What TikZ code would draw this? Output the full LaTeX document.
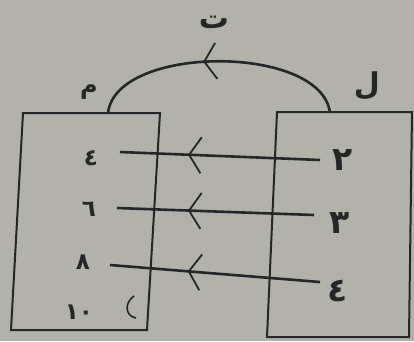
\documentclass[tikz,border=0pt]{standalone}
\usepackage{fontspec}
\usetikzlibrary{arrows.meta,decorations.markings}
\newfontfamily\arabicfont[Script=Arabic]{DejaVu Sans}
\definecolor{pbg}{HTML}{B2B2AA}
\definecolor{pline}{HTML}{262626}
\newcommand{\numsmall}{\arabicfont\bfseries\fontsize{23}{25}\selectfont}
\newcommand{\numbig}{\arabicfont\bfseries\fontsize{33}{36}\selectfont}
\tikzset{
  flow/.style={pline,line width=2.6pt,postaction={decorate},
    decoration={markings,mark=at position #1 with {\arrow{Straight Barb[length=12pt,width=36pt,line width=1.8pt]}}}},
  lab/.style={text=pline,inner sep=0pt}
}
\begin{document}
\begin{tikzpicture}[x=1pt,y=-1pt]
\fill[pbg] (0,0) rectangle (414,341);
\useasboundingbox (0,0) rectangle (414,341);
% the two boxes
\draw[pline,line width=2pt] (23,113) -- (160,113) -- (147,330) -- (11,330) -- cycle;
\draw[pline,line width=2pt] (277,112) -- (412,112) -- (409,337) -- (267,337) -- cycle;
% box letters
\node[lab,font=\arabicfont\bfseries\fontsize{24}{26}\selectfont] (m) at (89,92) {م};
\node[lab,font=\arabicfont\bfseries\fontsize{30}{32}\selectfont] (l) at (367,86) {ل};
\node[lab,font=\arabicfont\bfseries\fontsize{30}{32}\selectfont] (t) at (214,22) {ت};
% numbers, left box
\node[lab,font=\numsmall] (a4) at (91,158) {٤};
\node[lab,font=\numsmall] (a6) at (89,209) {٦};
\node[lab,font=\numsmall] (a8) at (83,262) {٨};
\node[lab,font=\numsmall] (a10) at (79,312) {١٠};
% numbers, right box
\node[lab,font=\numbig] (b2) at (343,160) {٢};
\node[lab,font=\numbig] (b3) at (340,223) {٣};
\node[lab,font=\numbig] (b4) at (338,291) {٤};
% line ends
\coordinate (r1) at (320,160); \coordinate (l1) at (120,152);
\coordinate (r2) at (314,215); \coordinate (l2) at (117,208);
\coordinate (r3) at (320,282); \coordinate (l3) at (110,265);
\coordinate (arcR) at (330,113); \coordinate (arcL) at (108,113);
\draw[flow=0.66] (r1) -- (l1);
\draw[flow=0.64] (r2) -- (l2);
\draw[flow=0.63] (r3) -- (l3);
\draw[flow=0.56] (arcR) .. controls (322,44) and (116,44) .. (arcL);
% small mark in left box
\draw[pline,line width=1.6pt] (134,296) .. controls (124,303) and (125,316) .. (136,318);
\end{tikzpicture}
\end{document}
